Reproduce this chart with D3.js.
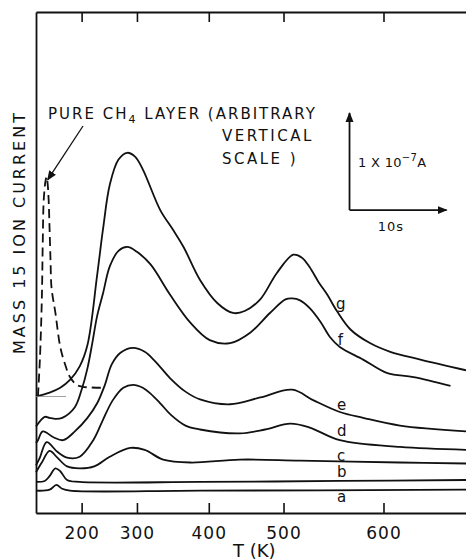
<!DOCTYPE html>
<html><head><meta charset="utf-8">
<script src="https://cdn.jsdelivr.net/npm/d3@7/dist/d3.min.js"></script>
<style>body{margin:0;background:#fff}svg{display:block}text{font-family:"DejaVu Sans",sans-serif;fill:#111}</style>
</head><body><svg id="chart" width="466" height="560"></svg>
<script>
// x: time since start of heating ramp (s); y: mass-15 ion current (units of 1e-8 A, curves offset)
const tickTimes  = [4.7, 10.4, 17.8, 25.5, 35.8];
const tickLabels = ["200", "300", "400", "500", "600"];
const curveNames = ["a", "b", "c", "d", "e", "f", "g"];

const curveA = [[0,2.3],[1.4,2.4],[2.1,2.9],[2.7,2.5],[3.5,2.3],[16.9,2.3],[44.3,2.4]];
const curveB = [[0,3.2],[0.9,3.3],[1.4,3.8],[2.0,4.6],[2.5,4.3],[3.2,3.4],[4.5,3.2],[16.9,3.2],[31.3,3.3],[44.3,3.4]];
const curveC = [[0,4.2],[0.6,5.2],[1.4,6.4],[2.2,5.7],[3.2,4.8],[4.5,4.6],[6.0,4.8],[7.6,5.8],[9.7,6.7],[11.2,6.5],[13.1,5.5],[15.9,5.2],[21.0,5.5],[27.2,5.4],[37.5,5.2],[44.3,5.1]];
const curveD = [[0,4.9],[0.4,5.7],[1.1,7.3],[2.2,6.3],[3.2,5.7],[4.5,5.8],[5.9,7.5],[6.9,9.6],[7.9,11.6],[9.0,12.9],[10.0,13.2],[11.0,12.9],[11.8,12.3],[12.8,11.3],[13.9,10.1],[15.4,9.0],[16.9,8.6],[21.0,8.2],[23.6,8.6],[26.2,9.2],[28.2,8.8],[31.3,7.5],[37.5,6.8],[44.3,6.5]];
const curveE = [[0,7.2],[0.2,7.5],[0.7,8.4],[1.8,7.8],[2.8,7.5],[4.0,8.4],[5.3,9.8],[6.3,11.3],[7.1,13.2],[7.8,15.3],[8.7,16.5],[10.0,17.0],[11.2,16.6],[12.3,15.6],[13.8,13.9],[15.4,12.5],[16.9,11.7],[20.0,11.2],[23.1,11.9],[26.4,12.7],[28.6,11.6],[31.3,10.4],[33.7,9.8],[37.5,9.0],[44.3,8.4]];
const curveF = [[0,8.9],[0.9,9.9],[1.4,9.8],[2.0,9.7],[2.7,9.8],[4.0,10.9],[4.7,12.7],[5.3,14.9],[5.8,17.5],[6.3,20.3],[6.9,22.6],[7.6,25.4],[8.5,27.0],[9.4,27.4],[10.4,26.9],[11.8,25.6],[13.8,22.5],[15.9,19.6],[17.9,17.8],[20.0,17.5],[22.1,18.6],[24.1,20.6],[25.7,22.0],[26.4,22.1],[27.2,21.9],[28.2,21.1],[29.3,19.7],[30.3,18.1],[31.3,17.1],[33.7,15.8],[36.2,14.4],[38.9,14.0],[42.7,13.1]];
const curveG = [[0,12.0],[1.4,12.4],[2.5,12.9],[3.5,13.7],[4.5,15.1],[5.3,17.3],[6.3,24.5],[6.9,29.2],[7.6,33.8],[8.5,36.4],[9.4,37.1],[10.2,36.7],[11.0,35.4],[12.8,31.2],[14.1,29.2],[15.2,27.4],[16.9,24.0],[18.7,21.6],[20.3,20.6],[21.5,20.8],[23.1,22.0],[24.8,24.7],[26.5,26.6],[27.4,26.3],[28.2,25.3],[29.1,23.8],[30.0,22.5],[31.0,20.8],[32.4,18.9],[34.4,17.5],[36.5,16.6],[39.6,15.8],[44.3,14.7]];
const pureCH4 = [[0.2,12.0],[0.4,15.8],[0.6,22.0],[0.7,28.1],[0.8,32.3],[1.0,34.3],[1.1,34.6],[1.2,33.9],[1.3,32.3],[1.4,29.2],[1.5,25.9],[1.6,23.2],[2.0,20.6],[2.5,17.1],[3.0,15.3],[3.5,14.0],[4.2,13.2],[4.8,13.0],[6.9,12.9]];

const svg = d3.select("#chart");
const x = d3.scaleLinear().domain([0, 44.3]).range([36, 466]);
const y = d3.scaleLinear().domain([0, 51.6]).range([513, 12]);

const defs = svg.append("defs");
defs.append("marker").attr("id","ah").attr("viewBox","0 0 10 10").attr("refX",9).attr("refY",5)
  .attr("markerWidth",10).attr("markerHeight",10).attr("markerUnits","userSpaceOnUse").attr("orient","auto")
  .append("path").attr("d","M0,1 L10,5 L0,9 Z").attr("fill","#111");

// axes
const gBottom = svg.append("g").attr("transform",`translate(0,${y(0)})`)
  .call(d3.axisBottom(x).tickValues(tickTimes).tickFormat((d,i)=>tickLabels[i]).tickSizeInner(-10).tickSizeOuter(0).tickPadding(14));
const gTop = svg.append("g").attr("transform",`translate(0,${y(51.6)})`)
  .call(d3.axisTop(x).tickValues(tickTimes).tickFormat("").tickSizeInner(-10).tickSizeOuter(0));
const gLeft = svg.append("g").attr("transform",`translate(${x(0)},0)`)
  .call(d3.axisLeft(y).tickValues([]).tickSizeOuter(0));
[gBottom, gTop, gLeft].forEach(g => {
  g.select(".domain").attr("stroke","#111").attr("stroke-width",1.8);
  g.selectAll(".tick line").attr("stroke","#111").attr("stroke-width",1.6);
});
gBottom.selectAll(".tick text").attr("font-size",17).attr("letter-spacing",1).attr("fill","#111")
  .style("font-family","'DejaVu Sans',sans-serif");

// curves
const line = d3.line().x(d=>x(d[0])).y(d=>y(d[1])).curve(d3.curveCatmullRom.alpha(0.5));
const curves = [curveA, curveB, curveC, curveD, curveE, curveF, curveG];
svg.append("g").selectAll("path").data(curves).join("path")
  .attr("d", line).attr("fill","none").attr("stroke","#111").attr("stroke-width",1.8);
svg.append("path").datum(pureCH4).attr("d", line).attr("fill","none")
  .attr("stroke","#111").attr("stroke-width",1.8).attr("stroke-dasharray","9,5");
// faint baseline of pure layer
svg.append("line").attr("x1",x(0)).attr("x2",x(3.1)).attr("y1",y(12.0)).attr("y2",y(12.0))
  .attr("stroke","#888").attr("stroke-width",0.8);

// curve labels
const labelPos = [[31.0,1.1],[31.0,3.7],[31.0,5.4],[31.0,7.9],[31.0,10.6],[31.1,17.3],[30.9,21.0]];
svg.append("g").selectAll("text").data(curveNames).join("text")
  .attr("x",(d,i)=>x(labelPos[i][0])).attr("y",(d,i)=>y(labelPos[i][1]))
  .attr("font-size",15).text(d=>d);

// annotation
const ann = svg.append("text").attr("x",48).attr("y",119).attr("font-size",15).attr("letter-spacing",2);
ann.append("tspan").text("PURE CH");
ann.append("tspan").attr("font-size",11).attr("dy",4).text("4");
ann.append("tspan").attr("dy",-4).text(" LAYER (ARBITRARY");
svg.append("text").attr("x",222).attr("y",141).attr("font-size",15).attr("letter-spacing",2.5).text("VERTICAL");
svg.append("text").attr("x",222).attr("y",164).attr("font-size",15).attr("letter-spacing",2.5).text("SCALE )");
svg.append("line").attr("x1",83).attr("y1",126).attr("x2",x(1.2)).attr("y2",y(34.3))
  .attr("stroke","#111").attr("stroke-width",1.3).attr("marker-end","url(#ah)");

// scale bar: 10 s by 1e-7 A
const sbT = 32.3, sbV = 31.2;
svg.append("line").attr("x1",x(sbT)).attr("y1",y(sbV)).attr("x2",x(sbT)).attr("y2",y(sbV+10))
  .attr("stroke","#111").attr("stroke-width",1.8).attr("marker-end","url(#ah)");
svg.append("line").attr("x1",x(sbT)).attr("y1",y(sbV)).attr("x2",x(sbT+10)).attr("y2",y(sbV))
  .attr("stroke","#111").attr("stroke-width",1.8).attr("marker-end","url(#ah)");
const amp = svg.append("text").attr("x",358).attr("y",167).attr("font-size",13).attr("letter-spacing",0.3);
amp.append("tspan").text("1 X 10");
amp.append("tspan").attr("font-size",10).attr("dy",-6).text("−7");
amp.append("tspan").attr("dy",6).text("A");
svg.append("text").attr("x",391).attr("y",231).attr("font-size",13).attr("text-anchor","middle").attr("letter-spacing",1).text("10s");

// axis titles
svg.append("text").attr("x",233).attr("y",557).attr("font-size",18).text("T (K)");
svg.append("text").attr("transform","translate(25,232) rotate(-90)").attr("text-anchor","middle")
  .attr("font-size",16).attr("letter-spacing",3).text("MASS 15 ION CURRENT");
</script></body></html>
